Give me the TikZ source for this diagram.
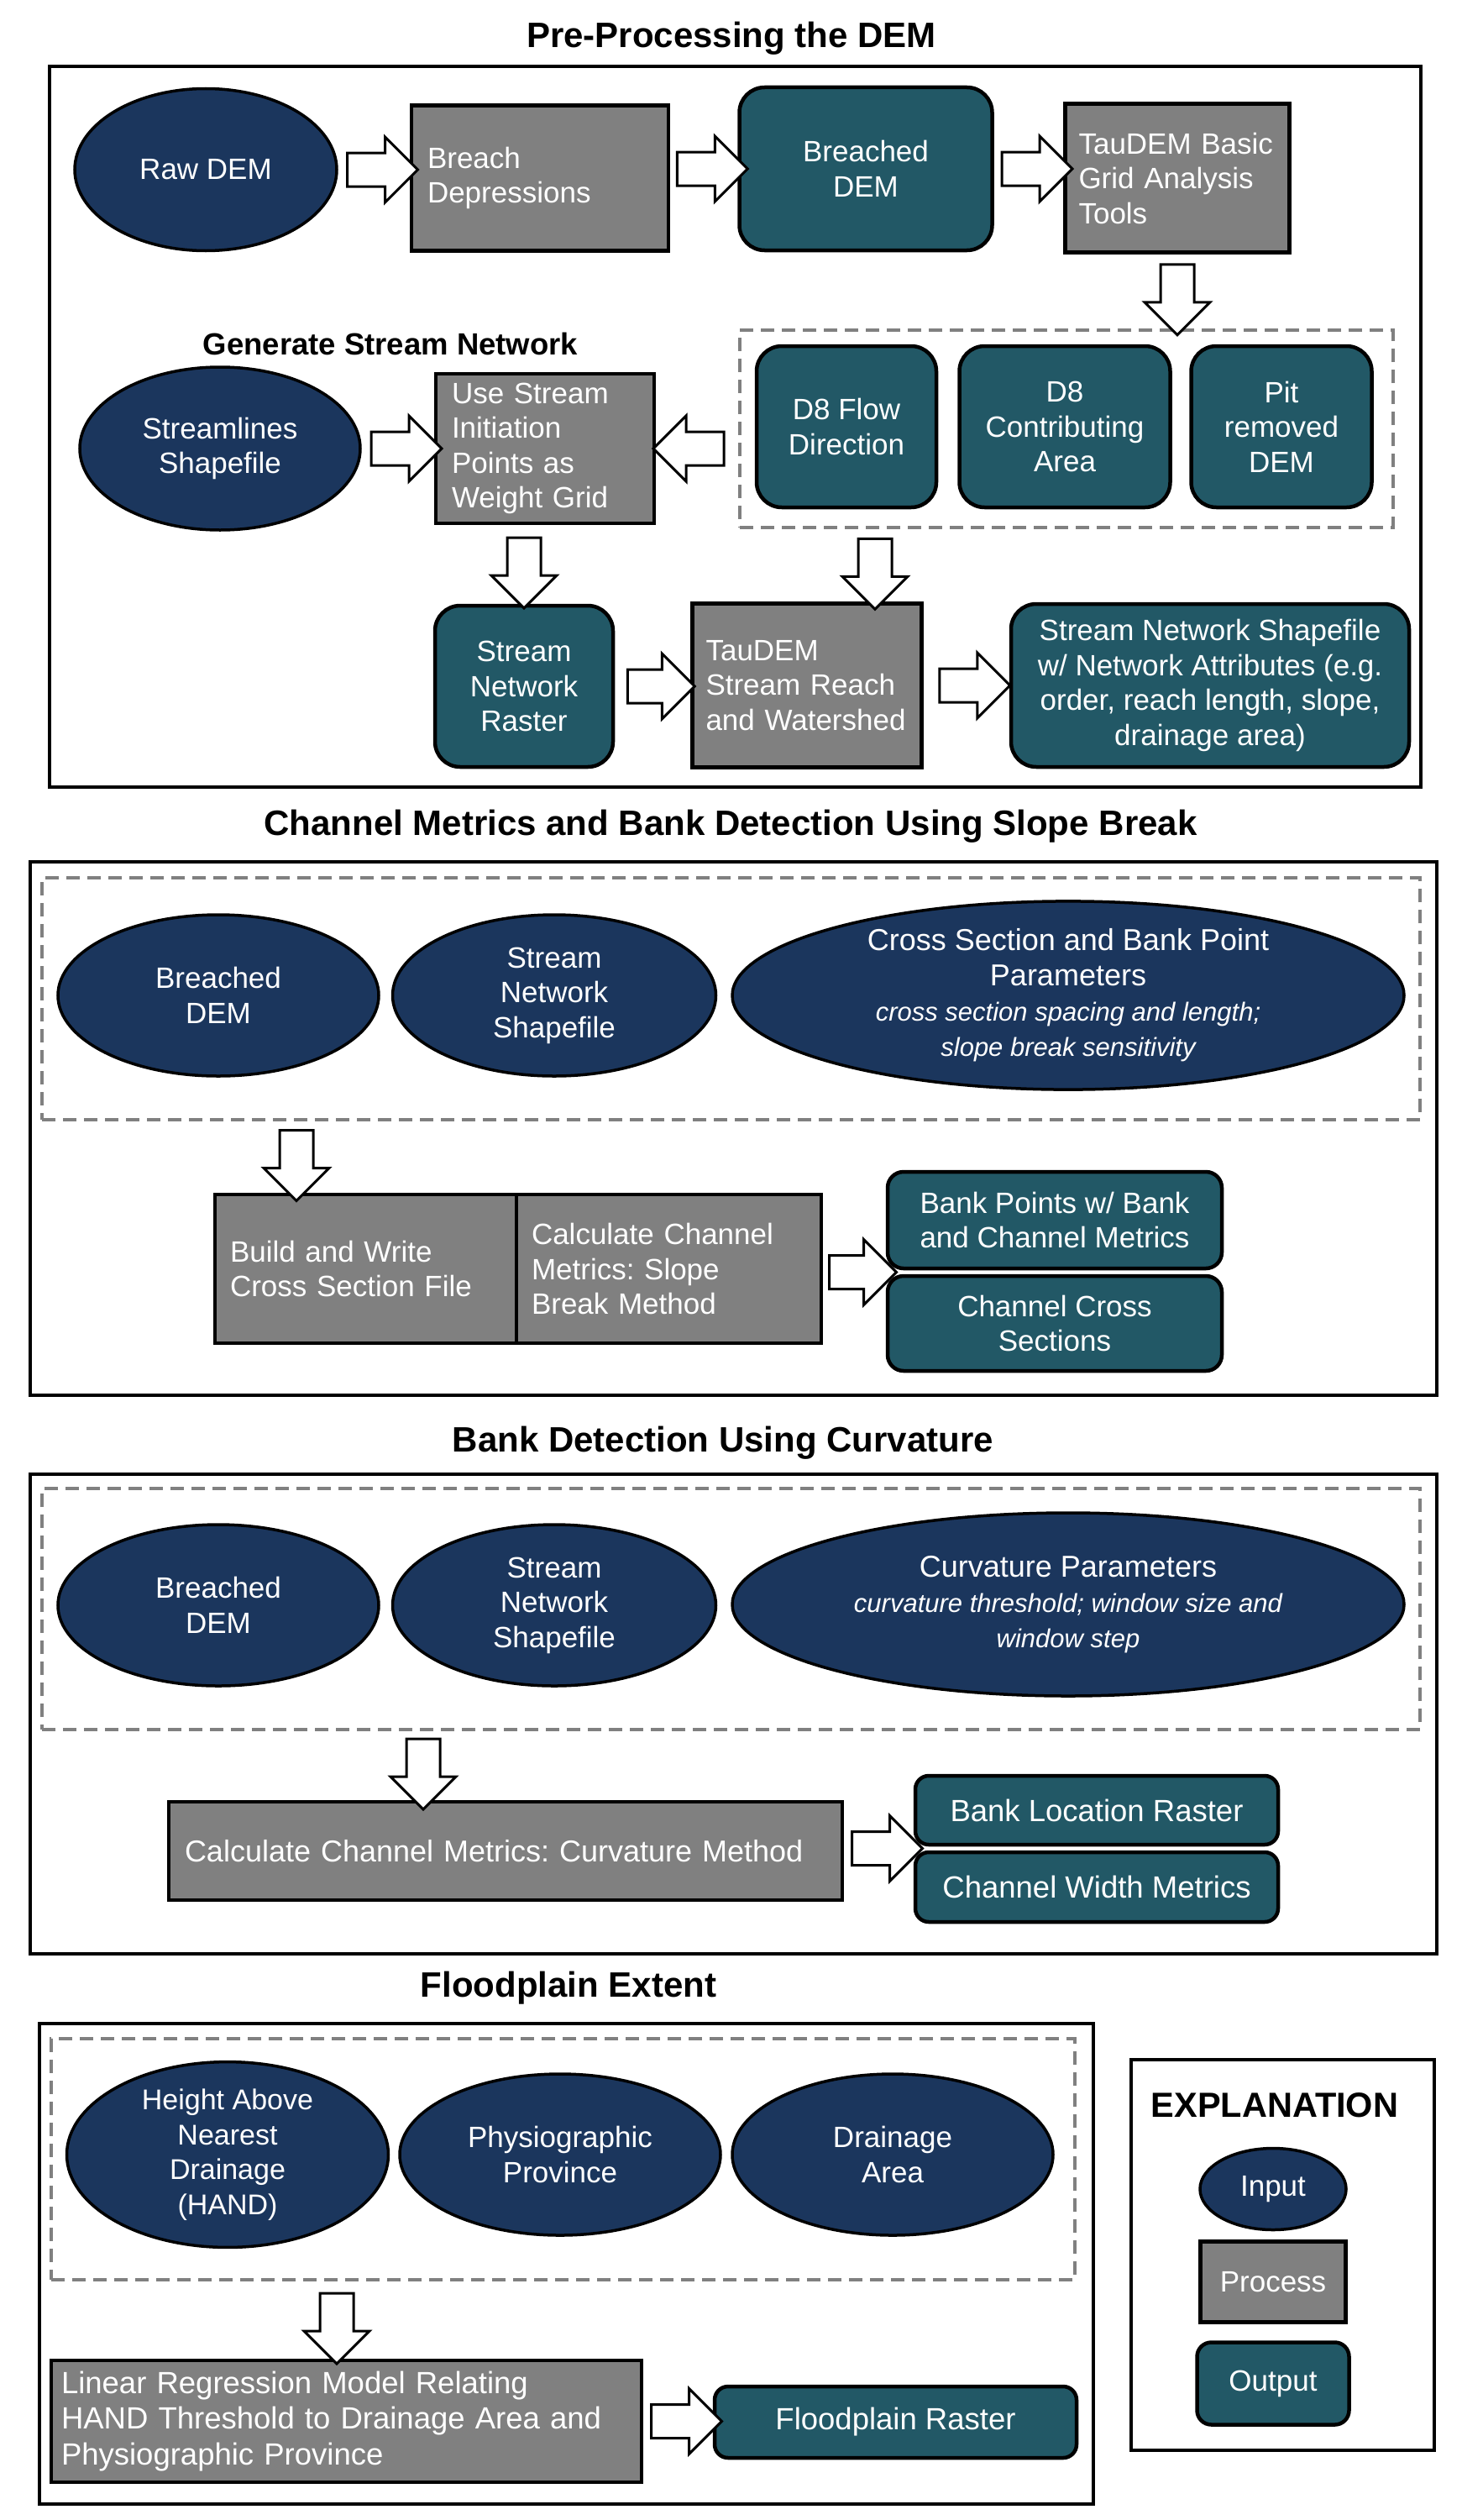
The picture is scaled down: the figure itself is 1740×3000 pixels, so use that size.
\documentclass[tikz,border=0pt]{standalone}
\usepackage{fontspec}
\setmainfont{Liberation Sans}
\usepackage{tikz}
\usetikzlibrary{shapes.geometric,shapes.arrows,positioning,calc}
\definecolor{inblue}{RGB}{27,54,93}
\definecolor{outteal}{RGB}{34,88,102}
\definecolor{procgray}{RGB}{128,128,128}
\definecolor{dashgray}{RGB}{128,128,128}
\frenchspacing

\begin{document}
\begin{tikzpicture}[x=1pt,y=-1pt,% one unit = one pixel of the page, y runs down
	every node/.style={
		align=center,		% so that "\\" breaks lines
		inner sep=0pt, outer sep=0pt,
		font=\fontsize{35}{41.5}\selectfont
		},
	inputnode/.style={ellipse,draw=black,line width=3.5pt,fill=inblue,text=white},
	processnode/.style={rectangle,draw=black,line width=4.5pt,fill=procgray,text=white,align=left,inner xsep=19pt},
	outputnode/.style={rectangle,rounded corners=30pt,draw=black,line width=4.5pt,fill=outteal,text=white},
	dashgroup/.style={rectangle,draw=dashgray,line width=4pt,dash pattern=on 16pt off 9pt},
	sectionframe/.style={draw=black,line width=4pt},
	heading/.style={font=\fontsize{42}{50}\selectfont\bfseries},
	paramtext/.style={font=\fontsize{31}{37}\selectfont\itshape},
	fatarrow/.style={single arrow,draw=black,fill=white,line width=3pt,inner xsep=0pt,inner ysep=18.5pt,minimum width=75pt,minimum height=84pt,single arrow head extend=19pt,sloped,allow upside down}
	]
	\useasboundingbox (0,0) rectangle (1740,3000);

	% Pre-Processing the DEM
	\node[heading](title1) at (871,46){Pre-Processing the DEM};
	\draw[sectionframe] (59,79) rectangle (1692,937);
	\node[inputnode,minimum width=312pt,minimum height=193pt](rawdem) at (245,202){Raw DEM};
	\node[processnode,text width=268pt,minimum height=173pt](breach) at (643,212){Breach\\Depressions};
	\node[outputnode,minimum width=301pt,minimum height=194pt](breached) at (1031,201){Breached\\DEM};
	\node[processnode,inner xsep=16pt,text width=235pt,minimum height=177pt](basic) at (1402,212){TauDEM Basic\\Grid Analysis\\Tools};
	\node[dashgroup,minimum width=778pt,minimum height=235pt](grpflow) at (1270,510.5){};
	\node[outputnode,minimum width=214pt,minimum height=192pt](d8dir) at (1008,508){D8 Flow\\Direction};
	\node[outputnode,minimum width=251pt,minimum height=192pt](d8area) at (1268,508){D8\\Contributing\\Area};
	\node[outputnode,minimum width=215pt,minimum height=192pt](pitdem) at (1526,508){Pit\\removed\\DEM};
	\node[heading,font=\fontsize{36.5}{44}\selectfont\bfseries](gentitle) at (465,409){Generate Stream Network};
	\node[inputnode,minimum width=334pt,minimum height=194pt](streamlines) at (262,534){Streamlines\\Shapefile};
	\node[processnode,text width=222pt,minimum height=178pt](weight) at (649,534){Use Stream\\Initiation\\Points as\\Weight Grid};
	\node[outputnode,minimum width=212pt,minimum height=192pt](raster) at (624,817){Stream\\Network\\Raster};
	\node[processnode,inner xsep=16pt,text width=241pt,minimum height=195pt](reach) at (961,816){TauDEM\\Stream Reach\\and Watershed};
	\node[outputnode,minimum width=474pt,minimum height=194pt](netshp) at (1441,816){Stream Network Shapefile\\w/ Network Attributes (e.g.\\order, reach length, slope,\\drainage area)};
	\coordinate (reachin) at ([xshift=81pt]reach.north);
	\path
	(rawdem.east) -- node[fatarrow]{} (rawdem.east -| breach.west)
	(breach.east |- breached.west) -- node[fatarrow]{} (breached.west)
	(breached.east) -- node[fatarrow]{} (breached.east -| basic.west)
	(basic.south) -- node[fatarrow]{} (basic.south |- grpflow.north)
	(streamlines.east) -- node[fatarrow]{} (weight.west)
	(grpflow.west |- weight.east) -- node[fatarrow]{} (weight.east)
	(raster.north |- weight.south) -- node[fatarrow]{} (raster.north)
	(reachin |- grpflow.south) -- node[fatarrow]{} (reachin)
	(raster.east) -- node[fatarrow,minimum height=80pt]{} (raster.east -| reach.west)
	(reach.east) -- node[fatarrow]{} (netshp.west)
	;

	% Channel Metrics and Bank Detection Using Slope Break
	\node[heading](title2) at (870,984){Channel Metrics and Bank Detection Using Slope Break};
	\draw[sectionframe] (36,1026) rectangle (1711,1661);
	\node[dashgroup,minimum width=1641pt,minimum height=288pt](grpxs) at (870.5,1189){};
	\node[inputnode,minimum width=382pt,minimum height=192pt](bdem2) at (260,1185){Breached\\DEM};
	\node[inputnode,minimum width=385pt,minimum height=192pt](snet2) at (660,1185){Stream\\Network\\Shapefile};
	\node[inputnode,minimum width=800pt,minimum height=219pt,font=\fontsize{36}{42}\selectfont](xsparam) at (1272,1185){Cross Section and Bank Point\\Parameters\\{\fontsize{31}{37}\selectfont\itshape cross section spacing and length;}\\{\fontsize{31}{37}\selectfont\itshape slope break sensitivity}};
	\node[processnode,inner xsep=18pt,text width=323pt,minimum height=177pt](build) at (435.5,1510.5){Build and Write\\Cross Section File};
	\node[processnode,inner xsep=18pt,text width=327pt,minimum height=177pt](slope)[right=0pt of build]{Calculate Channel\\Metrics: Slope\\Break Method};
	\node[outputnode,rounded corners=19pt,minimum width=398pt,minimum height=115pt](bankpts) at (1256,1452.5){Bank Points w/ Bank\\and Channel Metrics};
	\node[outputnode,rounded corners=19pt,minimum width=398pt,minimum height=113pt](xsect)[below=9pt of bankpts]{Channel Cross\\Sections};
	\coordinate (xsin) at ([xshift=-82.5pt]build.north);
	\coordinate (xsout) at ($(bankpts.south west)!0.5!(xsect.north west)$);
	\path
	(xsin |- grpxs.south) -- node[fatarrow]{} (xsin)
	(slope.east |- xsout) -- node[fatarrow,minimum height=80pt]{} (xsout)
	;

	% Bank Detection Using Curvature
	\node[heading](title3) at (861,1718){Bank Detection Using Curvature};
	\draw[sectionframe] (36,1755) rectangle (1711,2326);
	\node[dashgroup,minimum width=1641pt,minimum height=287pt](grpcurv) at (870.5,1915.5){};
	\node[inputnode,minimum width=382pt,minimum height=192pt](bdem3) at (260,1911){Breached\\DEM};
	\node[inputnode,minimum width=385pt,minimum height=192pt](snet3) at (660,1911){Stream\\Network\\Shapefile};
	\node[inputnode,minimum width=800pt,minimum height=218pt,font=\fontsize{36}{42}\selectfont](curvparam) at (1272,1910){Curvature Parameters\\{\fontsize{31}{37}\selectfont\itshape curvature threshold; window size and}\\{\fontsize{31}{37}\selectfont\itshape window step}};
	\node[processnode,text width=764pt,minimum height=117pt,font=\fontsize{36}{42}\selectfont](curvcalc) at (602,2203.5){Calculate Channel Metrics: Curvature Method};
	\node[outputnode,rounded corners=16pt,minimum width=432pt,minimum height=82pt,font=\fontsize{36.5}{42}\selectfont](bankloc) at (1306,2155){Bank Location Raster};
	\node[outputnode,rounded corners=16pt,minimum width=432pt,minimum height=83pt,font=\fontsize{36.5}{42}\selectfont](chwidth)[below=9pt of bankloc]{Channel Width Metrics};
	\coordinate (curvin) at ([xshift=-98pt]curvcalc.north);
	\coordinate (curvout) at ($(bankloc.south west)!0.5!(chwidth.north west)$);
	\path
	(curvin |- grpcurv.south) -- node[fatarrow]{} (curvin)
	(curvcalc.east |- curvout) -- node[fatarrow]{} (curvout)
	;

	% Floodplain Extent
	\node[heading](title4) at (677,2367){Floodplain Extent};
	\draw[sectionframe] (47,2409) rectangle (1302,2981);
	\node[dashgroup,minimum width=1219pt,minimum height=287pt](grpflood) at (670.5,2570.5){};
	\node[inputnode,minimum width=383pt,minimum height=192pt,font=\fontsize{34}{41.5}\selectfont](hand) at (271,2565){Height Above\\Nearest\\Drainage\\(HAND)};
	\node[inputnode,minimum width=382pt,minimum height=192pt](physio) at (667,2565){Physiographic\\Province};
	\node[inputnode,minimum width=382pt,minimum height=192pt](drain) at (1063,2565){Drainage\\Area};
	\node[processnode,inner xsep=12pt,text width=679pt,minimum height=145pt,font=\fontsize{36.5}{42.5}\selectfont](linreg) at (412.5,2882.5){Linear Regression Model Relating\\HAND Threshold to Drainage Area and\\Physiographic Province};
	\node[outputnode,rounded corners=16pt,minimum width=431pt,minimum height=85pt,font=\fontsize{36.5}{42}\selectfont](floodras) at (1066.5,2883.5){Floodplain Raster};
	\coordinate (floodin) at ([xshift=-11.5pt]linreg.north);
	\path
	(floodin |- grpflood.south) -- node[fatarrow]{} (floodin)
	(linreg.east) -- node[fatarrow]{} (linreg.east -| floodras.west)
	;

	% Explanation
	\draw[sectionframe] (1347,2452) rectangle (1708,2917);
	\node[heading,font=\fontsize{41.5}{50}\selectfont\bfseries](legtitle) at (1518,2506){EXPLANATION};
	\node[inputnode,minimum width=174pt,minimum height=97pt](legin) at (1516,2606){Input};
	\node[processnode,align=center,text width=135pt,minimum height=96pt](legproc)[below=14pt of legin]{Process};
	\node[outputnode,rounded corners=17pt,minimum width=181pt,minimum height=98pt](legout)[below=24pt of legproc]{Output};
\end{tikzpicture}
\end{document}
